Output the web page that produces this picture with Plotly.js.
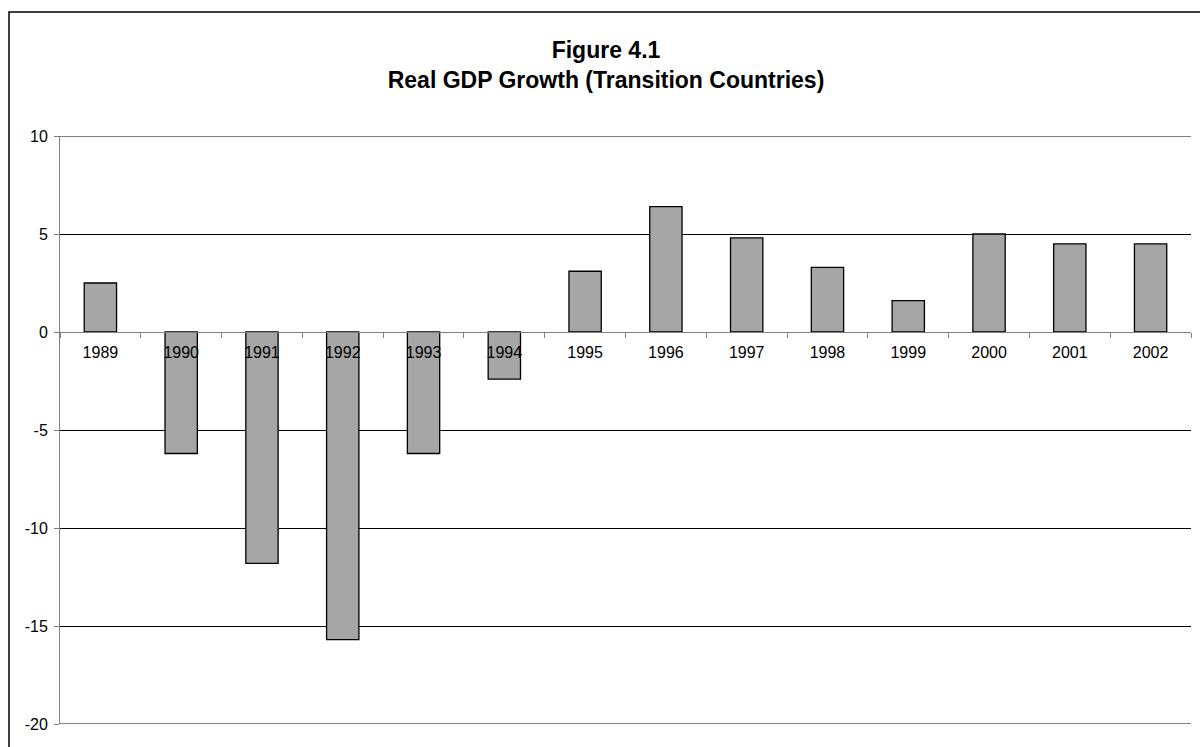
<!DOCTYPE html>
<html>
<head>
<meta charset="utf-8">
<script src="https://cdn.plot.ly/plotly-3.0.1.min.js"></script>
<style>
  html, body { margin: 0; padding: 0; background: #fff; }
  #chart { width: 1200px; height: 747px; }
</style>
</head>
<body>
<div id="chart"></div>
<script>
// Annual real GDP growth, percent
const years = ['1989', '1990', '1991', '1992', '1993', '1994', '1995',
               '1996', '1997', '1998', '1999', '2000', '2001', '2002'];
const growth = [2.5, -6.2, -11.8, -15.7, -6.2, -2.4, 3.1,
                6.4, 4.8, 3.3, 1.6, 5.0, 4.5, 4.5];
const yTicks = [-20, -15, -10, -5, 0, 5, 10];

const FONT = '"Liberation Sans", Arial, Helvetica, sans-serif';

const trace = {
  type: 'bar',
  x: years,
  y: growth,
  marker: { color: '#a6a6a6', line: { color: '#000000', width: 1.3 } },
  hoverinfo: 'x+y'
};

// plot area: 60..1191 px wide, 136..724 px tall
const M = { l: 60, r: 9, t: 136, b: 23 };
const W = 1200, H = 747;
const pw = W - M.l - M.r, ph = H - M.t - M.b;
const px = v => (v - M.l) / pw;           // pixel x -> paper x
const py = v => (H - M.b - v) / ph;       // pixel y -> paper y

const yMin = yTicks[0], yMax = yTicks[yTicks.length - 1];

// gridlines at the two ends of the value range (Plotly skips those at the plot edges)
const edgeGrid = [yMin, yMax].map(v => ({
  type: 'line', xref: 'paper', yref: 'y', layer: 'below',
  x0: 0, x1: 1, y0: v, y1: v,
  line: { color: '#000000', width: 1 }
}));

const layout = {
  width: W, height: H,
  margin: M,
  paper_bgcolor: '#ffffff',
  plot_bgcolor: '#ffffff',
  font: { family: FONT, size: 16, color: '#000000' },
  showlegend: false,
  bargap: 0.6,
  title: {
    text: '<b>Figure 4.1</b><br><b>Real GDP Growth (Transition Countries)</b>',
    font: { family: FONT, size: 23, color: '#000000' },
    xref: 'container', x: 606 / W, xanchor: 'center',
    yref: 'container', y: 1 - 58 / H, yanchor: 'top'
  },
  xaxis: {
    type: 'category',
    anchor: 'free',
    position: (0 - yMin) / (yMax - yMin),
    showline: true, linecolor: '#808080', linewidth: 1,
    showgrid: false, zeroline: false,
    ticks: 'outside', tickson: 'boundaries', ticklen: 5,
    tickcolor: '#808080', tickwidth: 1,
    ticklabelstandoff: 6,
    tickfont: { family: FONT, size: 16, color: '#000000' }
  },
  yaxis: {
    range: [yMin, yMax],
    tickvals: yTicks,
    ticktext: yTicks.map(String),
    showline: true, linecolor: '#808080', linewidth: 1,
    showgrid: true, gridcolor: '#000000', gridwidth: 1,
    zeroline: false,
    ticks: 'outside', ticklen: 5, tickcolor: '#808080', tickwidth: 1,
    ticklabelstandoff: 3,
    tickfont: { family: FONT, size: 16, color: '#000000' }
  },
  shapes: edgeGrid.concat([{
    type: 'rect', xref: 'paper', yref: 'paper', layer: 'above',
    x0: px(9), x1: px(1260), y0: py(800), y1: py(12),
    line: { color: '#000000', width: 1.5 },
    fillcolor: 'rgba(0,0,0,0)'
  }])
};

Plotly.newPlot('chart', [trace], layout, { displayModeBar: false, staticPlot: true });
</script>
</body>
</html>
